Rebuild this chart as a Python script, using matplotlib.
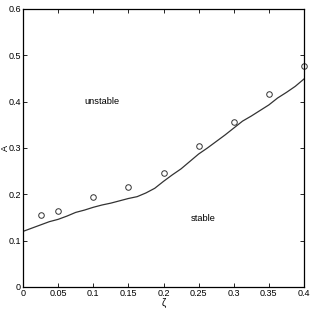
import matplotlib
matplotlib.use("Agg")
import matplotlib.pyplot as plt

plt.rcParams['font.family'] = ['Liberation Sans', 'DejaVu Sans']

# boundary curve
zeta_line = [0.0, 0.0125, 0.025, 0.0375, 0.05, 0.0625, 0.075, 0.0875, 0.1, 0.1125, 0.125,
             0.1375, 0.15, 0.1625, 0.175, 0.1875, 0.2, 0.2125, 0.225, 0.2375, 0.25,
             0.2625, 0.275, 0.2875, 0.3, 0.3125, 0.325, 0.3375, 0.35, 0.3625, 0.375,
             0.3875, 0.4]
a_line = [0.120, 0.127, 0.134, 0.141, 0.146, 0.153, 0.161, 0.166, 0.172, 0.177, 0.181,
          0.186, 0.191, 0.195, 0.203, 0.213, 0.228, 0.242, 0.255, 0.271, 0.287,
          0.300, 0.314, 0.328, 0.343, 0.358, 0.369, 0.381, 0.393, 0.408, 0.420,
          0.433, 0.449]

# measured points
zeta_pts = [0.025, 0.05, 0.1, 0.15, 0.2, 0.25, 0.3, 0.35, 0.4]
a_pts = [0.155, 0.165, 0.195, 0.215, 0.246, 0.305, 0.356, 0.416, 0.476]

fig = plt.figure(figsize=(3.12, 3.12), dpi=100)
ax = fig.add_axes([23/312, 25/312, 281/312, 278/312])

ax.plot(zeta_line, a_line, color='#333333', lw=0.9)
ax.plot(zeta_pts, a_pts, 'o', mfc='none', mec='#333333', ms=4, mew=0.7, clip_on=False)

ax.text(0.112, 0.40, 'unstable', fontsize=6.7, ha='center', va='center')
ax.text(0.256, 0.147, 'stable', fontsize=6.7, ha='center', va='center')

ax.set_xlim(0, 0.4)
ax.set_ylim(0, 0.6)
ax.set_xticks([0, 0.05, 0.1, 0.15, 0.2, 0.25, 0.3, 0.35, 0.4])
ax.set_xticklabels(['0', '0.05', '0.1', '0.15', '0.2', '0.25', '0.3', '0.35', '0.4'])
ax.set_yticks([0, 0.1, 0.2, 0.3, 0.4, 0.5, 0.6])
ax.set_yticklabels(['0', '0.1', '0.2', '0.3', '0.4', '0.5', '0.6'])
ax.tick_params(direction='in', top=True, right=True, labelsize=6.5, length=3, width=0.6, pad=1.5)
for s in ax.spines.values():
    s.set_linewidth(0.9)

ax.set_xlabel('ζ', fontsize=7, labelpad=0)
ax.set_ylabel('A', fontsize=6.5, va='center')
ax.yaxis.set_label_coords(-0.063, 0.5)

fig.savefig('out.png', dpi=100)
